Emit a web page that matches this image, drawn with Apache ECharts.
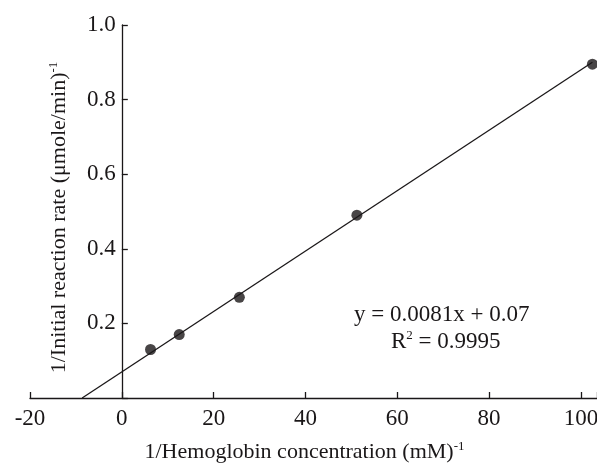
<!DOCTYPE html>
<html><head><meta charset="utf-8">
<script src="https://cdn.jsdelivr.net/npm/echarts@6/dist/echarts.min.js"></script>
<style>html,body{margin:0;padding:0;background:#fff}#c{width:597px;height:463px}</style>
</head><body><div id="c"></div>
<script>
var xValues = [6.25, 12.5, 25.6, 51.2, 102.5];
var yValues = [0.13, 0.17, 0.27, 0.49, 0.895];
var trendX = [-8.64, 102.5];
var trendY = [0, 0.900];
var xTicks = [-20, 0, 20, 40, 60, 80, 100];
var yTicks = [0.2, 0.4, 0.6, 0.8, 1.0];

var FONT = 'Liberation Serif';
var FS = 23;
var NFS = 22;
var INK = '#1a1718';
var GRID_LEFT = 30;
var chart = echarts.init(document.getElementById('c'));
var pts = xValues.map(function(x, i){ return [x, yValues[i]]; });
var trend = trendX.map(function(x, i){ return [x, trendY[i]]; });
var sup = {sup: {fontSize: 13, verticalAlign: 'top', padding: [0,0,12,0], fontFamily: FONT, color: INK}};
var option = {
  animation: false,
  grid: {left: GRID_LEFT, right: 0, top: 25, bottom: 65, containLabel: false, outerBoundsMode: 'none'},
  xAxis: {
    type: 'value', min: -20, max: 103.5, interval: 20,
    axisLine: {onZero: true, lineStyle: {color: INK, width: 1.3}},
    axisTick: {inside: true, length: 6, lineStyle: {color: INK, width: 1.3}},
    axisLabel: {fontFamily: FONT, fontSize: FS, color: INK, margin: 9,
      formatter: function(v){ return xTicks.indexOf(v) >= 0 ? String(v) : ''; }},
    splitLine: {show: false},
    name: '1/Hemoglobin concentration (mM){sup|-1}',
    nameLocation: 'middle', nameGap: 42, nameMoveOverlap: false,
    nameTextStyle: {fontFamily: FONT, fontSize: NFS, color: INK, rich: sup, padding: [0, 18, 0, 0]}
  },
  yAxis: {
    type: 'value', min: 0, max: 1.0, interval: 0.2,
    axisLine: {onZero: false, lineStyle: {color: INK, width: 1.3}},
    axisTick: {inside: true, length: 6, lineStyle: {color: INK, width: 1.3}},
    axisLabel: {fontFamily: FONT, fontSize: FS, color: INK, margin: 6,
      formatter: function(v){
        for (var i = 0; i < yTicks.length; i++) if (Math.abs(yTicks[i]-v) < 1e-9) return v.toFixed(1);
        return '';
      }},
    splitLine: {show: false},
    name: '1/Initial reaction rate (μmole/min){sup|-1}',
    nameLocation: 'middle', nameGap: 50, nameRotate: 90, nameMoveOverlap: false,
    nameTextStyle: {fontFamily: FONT, fontSize: NFS, color: INK, rich: sup, padding: [0, 12, 0, 0]}
  },
  series: [
    {type: 'line', data: trend, symbol: 'none', lineStyle: {color: INK, width: 1.3}, silent: true},
    {type: 'scatter', data: pts, symbolSize: 11, itemStyle: {color: INK}}
  ],
  graphic: [
    {type: 'text', left: 354, top: 303, style: {
      text: 'y = 0.0081x + 0.07', font: FS + 'px "Liberation Serif"', fill: INK}},
    {type: 'text', left: 391, top: 329, style: {
      text: 'R{sup|2} = 0.9995', font: FS + 'px "Liberation Serif"', fill: INK,
      rich: {sup: {fontSize: 13, verticalAlign: 'top', padding: [0,0,12,0], fontFamily: FONT, fill: INK}}}}
  ]
};
chart.setOption(option);
var zeroPx = chart.convertToPixel({xAxisIndex: 0}, 0);
chart.setOption({yAxis: {offset: -(zeroPx - GRID_LEFT)}});
</script></body></html>
